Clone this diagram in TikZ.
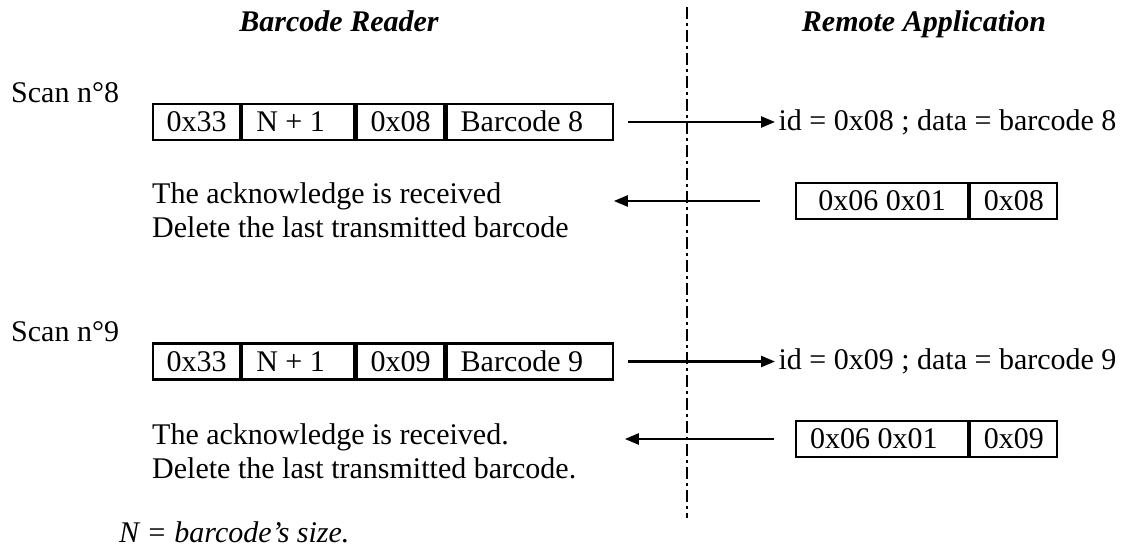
\documentclass[tikz,border=0pt]{standalone}
\usepackage{fontspec}
\setmainfont{Liberation Serif}
\usepackage{tikz}
\usetikzlibrary{arrows.meta, positioning, calc}

\begin{document}
\begin{tikzpicture}[
    x=1pt, y=-1pt,
    every node/.style={font=\fontsize{30}{34}\selectfont,
        execute at begin node={\spaceskip=0pt\xspaceskip=0pt}},
    field/.style={draw, line width=2.2pt, anchor=west, minimum height=36pt,
        text height=20pt, text depth=1pt, minimum width=#1, inner xsep=0pt},
    lfield/.style={draw, line width=2.2pt, anchor=west, minimum height=36pt,
        text height=20pt, text depth=1pt, inner xsep=14pt, text width=#1},
    msg/.style={-{Triangle[length=14pt, width=11pt]}, line width=2.4pt},
    header/.style={anchor=base, font=\fontsize{30}{34}\selectfont\bfseries\itshape},
    divider/.style={line width=2pt, dash pattern=on 12pt off 4pt on 3pt off 4pt}
]
\useasboundingbox (0,0) rectangle (1130,548);

% === HEADERS ===
\node [header] (reader) at (339,32) {Barcode Reader};
\node [header] (remote) at (924,32) {Remote Application};
\coordinate (divtop) at (687,7);
\coordinate (divbot) at (687,518);
\draw [divider] (divtop) -- (divbot);

% === SCAN 8 ===
\node [anchor=west, inner sep=0pt] (scan8) at (11,93) {Scan n°8};
\node [field=87pt] (hdr8) at (152,122) {0x33};
\node [lfield=84pt] (len8) at (hdr8.east) {N + 1};
\node [field=88pt] (id8) at (len8.east) {0x08};
\node [lfield=138pt] (bc8) at (id8.east) {Barcode 8};
\node [anchor=west] (rx8) at (775,122) {id = 0x08 ; data = barcode 8};
\draw [msg, shorten <=14pt] (bc8.east) -- (rx8.west);

\node [field=172pt] (ack8) at (795,201) {0x06 0x01};
\node [field=87pt] (ackid8) at (ack8.east) {0x08};
\node [anchor=west, align=left, inner sep=0pt] (done8) at (152,210.5)
    {The acknowledge is received\\Delete the last transmitted barcode};
\draw [msg, shorten <=35pt] (ack8.west) -- (ack8.west -| bc8.east);

% === SCAN 9 ===
\node [anchor=west, inner sep=0pt] (scan9) at (11,332) {Scan n°9};
\node [field=87pt] (hdr9) at (152,361.5) {0x33};
\node [lfield=84pt] (len9) at (hdr9.east) {N + 1};
\node [field=88pt] (id9) at (len9.east) {0x09};
\node [lfield=138pt] (bc9) at (id9.east) {Barcode 9};
\node [anchor=west] (rx9) at (775,361.5) {id = 0x09 ; data = barcode 9};
\draw [msg, shorten <=14pt] (bc9.east) -- (rx9.west);

\node [lfield=144pt] (ack9) at (795,439) {0x06 0x01};
\node [field=87pt] (ackid9) at (ack9.east) {0x09};
\node [anchor=west, align=left, inner sep=0pt] (done9) at (152,451)
    {The acknowledge is received.\\Delete the last transmitted barcode.};
\draw [msg, shorten <=21pt, shorten >=11pt] (ack9.west) -- (ack9.west -| bc9.east);

% === NOTE ===
\node [anchor=base west, inner sep=0pt, font=\fontsize{30}{34}\selectfont\itshape] (note) at (119,542)
    {N = barcode’s size.};

\end{tikzpicture}
\end{document}
